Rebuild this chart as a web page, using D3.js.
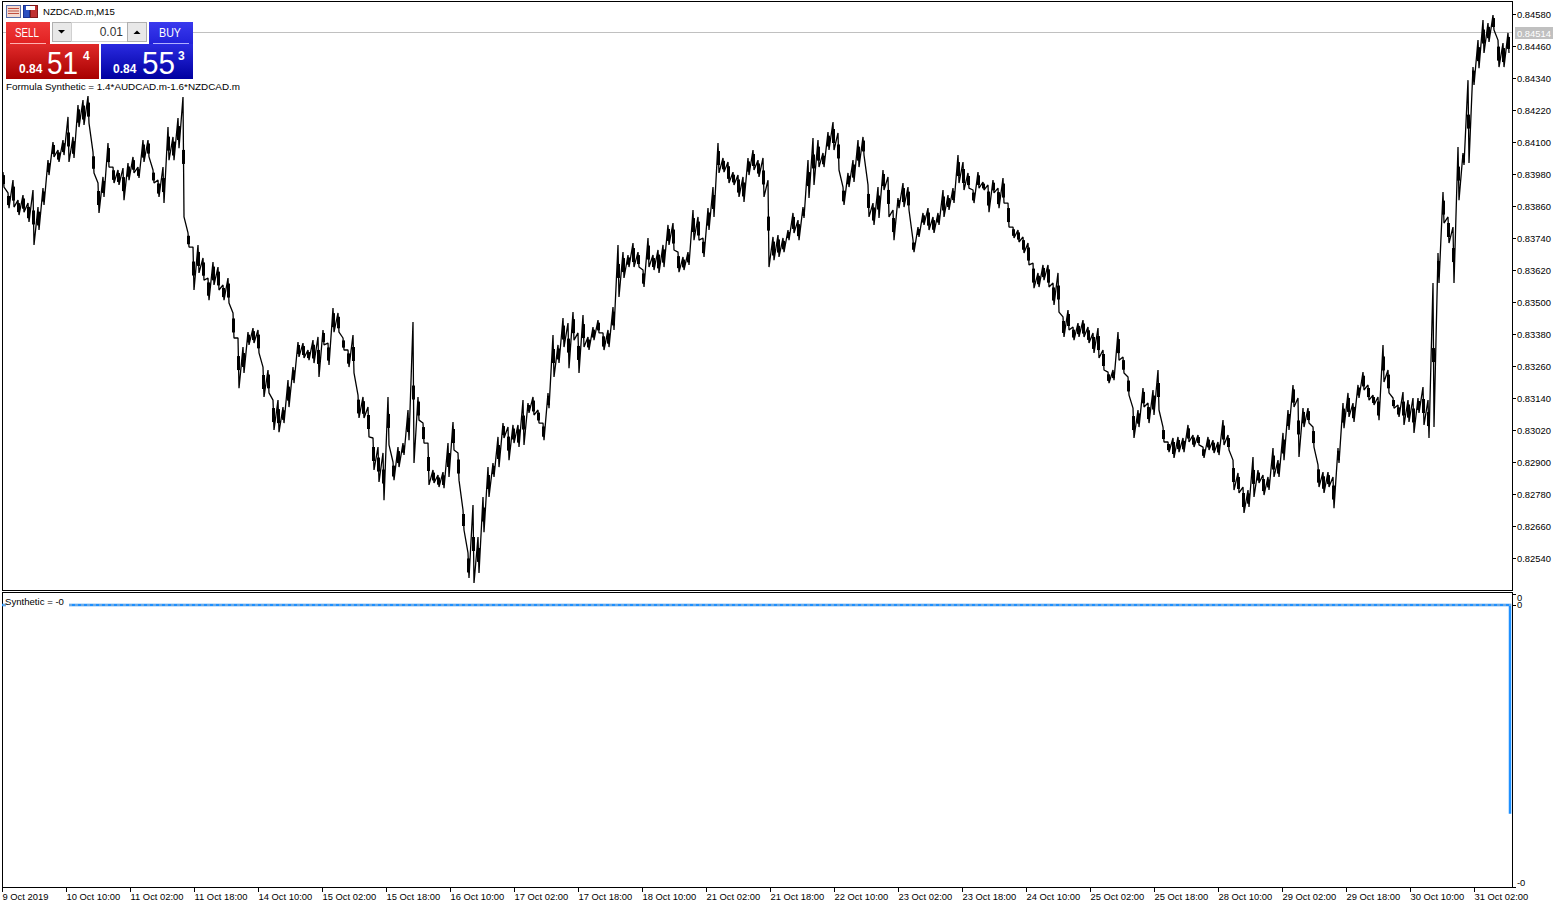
<!DOCTYPE html>
<html>
<head>
<meta charset="utf-8">
<title>NZDCAD.m,M15</title>
<script src="https://cdn.jsdelivr.net/npm/d3@7"></script>
<style>
  body { margin: 0; background: #fff; }
  svg { display: block; }
  text { font-family: "Liberation Sans", Arial, sans-serif; }
  .axis text { font-size: 9.4px; fill: #000; font-family: "Liberation Sans", Arial, sans-serif; }
  .axis line { stroke: #000; shape-rendering: crispEdges; }
  .axis path { display: none; }
</style>
</head>
<body>
<svg id="chart" width="1567" height="907"></svg>
<script>
// prices in points (1 point = 0.00001), one high/low pair every 5 M15 bars
const highs = [
  83987,83909,83957,83882,83901,83871,83920,83856,83927,84032,84100,84070,84107,84194,84119,84239,84257,84272,84062,83946,
  83969,84096,84006,83995,84002,84021,84044,84006,84107,84107,83995,83957,84006,84156,84119,84190,84269,83759,83706,83714,
  83665,83590,83650,83631,83564,83590,83459,83365,83331,83387,83402,83395,83256,83245,83132,83132,83106,83207,83256,83350,
  83346,83320,83357,83369,83395,83346,83477,83459,83365,83320,83376,83151,83144,83106,82990,82956,82934,83144,82900,82956,
  82971,83095,83425,83144,83046,82971,82870,82851,82862,82971,83050,82934,82720,82559,82739,82619,82769,82881,82896,82994,
  83046,83031,83039,83039,83132,83121,83144,83095,83046,83159,83376,83339,83440,83421,83462,83384,83451,83369,83406,83432,
  83384,83395,83481,83714,83687,83676,83721,83687,83620,83740,83676,83695,83714,83789,83796,83687,83669,83687,83845,83819,
  83740,83852,83931,84096,84040,84025,83987,83976,83969,84040,84070,84032,84040,83957,83744,83751,83740,83770,83834,83807,
  83856,84032,84115,84107,84059,84137,84175,84134,83931,83984,84032,84107,84119,83939,83871,83931,83995,83969,83845,83890,
  83946,83931,83732,83781,83834,83852,83819,83834,83920,83901,83927,84051,84025,83984,83920,83987,83950,83939,83957,83927,
  83965,83871,83781,83770,83744,83721,83646,83609,83639,83639,83571,83609,83444,83470,83406,83421,83432,83406,83384,83402,
  83320,83237,83245,83387,83294,83219,83102,83095,83177,83121,83170,83245,83031,82975,82990,82994,82990,83039,83001,83001,
  82956,82994,82982,82975,83057,83001,82907,82859,82806,82795,82919,82870,82851,82844,82952,82907,83009,83095,83189,83140,
  83102,83102,83031,82889,82862,82862,82844,82952,83121,83159,83121,83189,83237,83189,83151,83144,83339,83245,83140,83114,
  83162,83132,83140,83140,83181,83132,83571,83684,83912,83819,83781,84081,84059,84332,84381,84482,84557,84546,84576,84482,
  84471,84509
];
const lows = [
  83931,83852,83856,83826,83837,83800,83714,83770,83864,83976,84044,84025,84051,84025,84040,84156,84164,84171,83984,83834,
  83894,84006,83946,83939,83882,83957,83984,83965,84025,84044,83946,83894,83871,84032,84032,84077,83819,83706,83545,83609,
  83582,83507,83564,83545,83507,83496,83365,83177,83234,83339,83346,83309,83144,83159,83020,83012,83046,83106,83196,83294,
  83290,83282,83271,83219,83339,83264,83387,83387,83320,83256,83234,83065,83065,82994,82870,82825,82757,82964,82832,82881,
  82926,82982,82896,83057,82971,82814,82821,82806,82802,82844,82945,82832,82645,82465,82446,82484,82637,82769,82844,82881,
  82990,82907,82971,82956,82964,83084,83076,83046,82982,83102,83219,83271,83331,83252,83357,83234,83331,83320,83357,83384,
  83320,83331,83395,83519,83590,83631,83631,83631,83556,83631,83620,83609,83631,83714,83695,83612,83620,83639,83732,83732,
  83669,83770,83819,83984,83987,83946,83939,83894,83875,83976,83995,83969,83894,83631,83657,83669,83687,83732,83759,83732,
  83815,83890,83939,84006,84006,84070,84070,83995,83864,83931,83950,84006,84051,83819,83789,83815,83920,83819,83732,83852,
  83856,83845,83687,83744,83789,83770,83759,83789,83819,83845,83871,83946,83920,83927,83871,83927,83920,83837,83909,83852,
  83871,83781,83740,83725,83684,83639,83552,83556,83582,83556,83489,83462,83369,83395,83357,83369,83369,83346,83309,83290,
  83245,83196,83207,83282,83234,83151,82990,83031,83106,83046,83076,83095,82975,82937,82915,82937,82937,82975,82956,82964,
  82915,82945,82934,82926,82964,82945,82795,82784,82709,82731,82769,82821,82776,82795,82844,82844,82907,83020,83106,82919,
  83031,83046,82956,82806,82784,82806,82727,82896,83027,83069,83050,83140,83170,83132,83114,83057,83200,83159,83102,83069,
  83039,83050,83009,83084,83039,82990,83031,83571,83796,83721,83571,83882,84014,84021,84314,84377,84434,84475,84520,84381,
  84381,84434
];
const priceTicks = [84580,84460,84340,84220,84100,83980,83860,83740,83620,83500,83380,83260,83140,83020,82900,82780,82660,82540];
const currentPrice = 84514;

const timeLabels = ["9 Oct 2019","10 Oct 10:00","11 Oct 02:00","11 Oct 18:00","14 Oct 10:00","15 Oct 02:00","15 Oct 18:00","16 Oct 10:00",
  "17 Oct 02:00","17 Oct 18:00","18 Oct 10:00","21 Oct 02:00","21 Oct 18:00","22 Oct 10:00","23 Oct 02:00","23 Oct 18:00",
  "24 Oct 10:00","25 Oct 02:00","25 Oct 18:00","28 Oct 10:00","29 Oct 02:00","29 Oct 18:00","30 Oct 10:00","31 Oct 02:00"];

// synthetic indicator: flat at zero, then a single drop on the last bars
const synthBars = [0, 1508, 1508];
const synthValues = [0, 0, -0.00074];
const synthTicks = [0.00004, 0, -0.001];
const synthTickLabels = ["0", "0", "-0"];

const barsPerSample = 5;
const barsPerLabel = 64;

const svg = d3.select("#chart");

const x = d3.scaleLinear().domain([0, 1509]).range([2, 1511]);
const y = d3.scaleLinear().domain([84580, 82540]).range([14, 558]);
const ySynth = d3.scaleLinear().domain([0, -0.001]).range([605, 887]);

// main pane
svg.append("line")
  .attr("x1", 2).attr("x2", 1512)
  .attr("y1", Math.round(y(currentPrice)) + 0.5).attr("y2", Math.round(y(currentPrice)) + 0.5)
  .attr("stroke", "#c0c0c0");

// high-low swings, each joined to the next one
const pricePath = d3.path();
highs.forEach((h, i) => {
  const bx = x(1 + i * barsPerSample);
  if (i === 0) pricePath.moveTo(bx, y(h));
  else pricePath.lineTo(bx, y(h));
  pricePath.lineTo(bx + 1, y(lows[i]));
});
svg.append("path")
  .attr("d", pricePath.toString())
  .attr("fill", "none")
  .attr("stroke", "#000")
  .attr("stroke-width", 1.3)
  .attr("stroke-linejoin", "bevel");

// the middle of each range is solid black in the dense M15 bars, long spikes stay thin
const maxBody = 14;
function bodyHeight(h, l) {
  return Math.min((y(l) - y(h)) * 0.6, maxBody);
}
svg.append("g").selectAll("rect")
  .data(highs)
  .join("rect")
  .attr("x", (d, i) => x(1 + i * barsPerSample) - 1)
  .attr("width", 3)
  .attr("y", (d, i) => (y(d) + y(lows[i])) / 2 - bodyHeight(d, lows[i]) / 2)
  .attr("height", (d, i) => bodyHeight(d, lows[i]))
  .attr("fill", "#000");

// frames
svg.append("rect").attr("x", 2.5).attr("y", 1.5).attr("width", 1510).attr("height", 589)
  .attr("fill", "none").attr("stroke", "#000").attr("shape-rendering", "crispEdges");
svg.append("rect").attr("x", 2.5).attr("y", 592.5).attr("width", 1510).attr("height", 295)
  .attr("fill", "none").attr("stroke", "#000").attr("shape-rendering", "crispEdges");

svg.append("g")
  .attr("class", "axis")
  .attr("transform", "translate(1512,0)")
  .call(d3.axisRight(y).tickValues(priceTicks).tickSize(4).tickPadding(1)
    .tickFormat(d => (d / 100000).toFixed(5)));

// current price tag
svg.append("rect")
  .attr("x", 1515).attr("y", Math.round(y(currentPrice)) - 5).attr("width", 38).attr("height", 12)
  .attr("fill", "#c0c0c0");
svg.append("text")
  .attr("x", 1517).attr("y", Math.round(y(currentPrice)) + 5)
  .attr("font-size", 9.4).attr("fill", "#fff")
  .text((currentPrice / 100000).toFixed(5));

// lower pane
const synthLine = d3.line()
  .x((d, i) => x(synthBars[i]))
  .y(d => ySynth(d));
svg.append("path")
  .attr("d", synthLine(synthValues))
  .attr("fill", "none")
  .attr("stroke", "#1e90ff")
  .attr("stroke-width", 2.5);
svg.append("line")
  .attr("x1", 3).attr("x2", 1511)
  .attr("y1", ySynth(0)).attr("y2", ySynth(0))
  .attr("stroke", "#c0c0c0")
  .attr("stroke-dasharray", "3,3");
svg.append("rect").attr("x", 6).attr("y", 594).attr("width", 63).attr("height", 15).attr("fill", "#fff");
svg.append("text").attr("x", 5).attr("y", 605).attr("font-size", 9.6).text("Synthetic = -0");

const synthAxis = svg.append("g")
  .attr("class", "axis")
  .attr("transform", "translate(1512,0)")
  .call(d3.axisRight(ySynth).tickValues(synthTicks).tickSize(4).tickPadding(1)
    .tickFormat((d, i) => synthTickLabels[i]));
synthAxis.selectAll(".tick").filter((d, i) => i === 0).select("text").attr("dy", "6.5px");
synthAxis.selectAll(".tick").filter((d, i) => i === 1).select("text").attr("dy", "2.5px");
synthAxis.selectAll(".tick").filter((d, i) => i === 1).select("line").attr("stroke", "#c0c0c0");
synthAxis.selectAll(".tick").filter((d, i) => i === 2).select("text").attr("dy", "-2px");

// time axis
const timeAxis = svg.append("g")
  .attr("class", "axis")
  .attr("transform", "translate(0,888)")
  .call(d3.axisBottom(x)
    .tickValues(timeLabels.map((d, i) => i * barsPerLabel))
    .tickSize(4).tickPadding(0)
    .tickFormat((d, i) => timeLabels[i]));
timeAxis.selectAll("text").attr("text-anchor", "start").attr("x", 0).attr("y", 5);

// trade panel
const panel = svg.append("g");
panel.append("rect").attr("x", 3).attr("y", 3).attr("width", 240).attr("height", 17).attr("fill", "#fff");
panel.append("rect").attr("x", 6).attr("y", 21).attr("width", 187).attr("height", 59).attr("fill", "#fff");

// small window icons
panel.append("rect").attr("x", 6.5).attr("y", 5.5).attr("width", 14).attr("height", 12)
  .attr("fill", "#f3d9d0").attr("stroke", "#5a6fa8");
[8.5, 11, 13.5].forEach(ly => {
  panel.append("line").attr("x1", 8).attr("x2", 19).attr("y1", ly).attr("y2", ly).attr("stroke", "#c05040");
});
panel.append("rect").attr("x", 23.5).attr("y", 5.5).attr("width", 6).attr("height", 12).attr("fill", "#2a50c0").attr("stroke", "#1a3090");
panel.append("rect").attr("x", 30.5).attr("y", 5.5).attr("width", 7).attr("height", 12).attr("fill", "#c03030").attr("stroke", "#801818");
panel.append("rect").attr("x", 26).attr("y", 6).attr("width", 9).attr("height", 4).attr("fill", "#fff");

panel.append("text").attr("x", 43).attr("y", 15).attr("font-size", 9.6).text("NZDCAD.m,M15");

const defs = svg.append("defs");
function gradient(id, top, bottom) {
  const g = defs.append("linearGradient").attr("id", id).attr("x1", 0).attr("y1", 0).attr("x2", 0).attr("y2", 1);
  g.append("stop").attr("offset", "0%").attr("stop-color", top);
  g.append("stop").attr("offset", "100%").attr("stop-color", bottom);
}
gradient("redBtn", "#f03a3a", "#e02020");
gradient("redBox", "#e02a2a", "#a80000");
gradient("blueBtn", "#3a3aee", "#2020d8");
gradient("blueBox", "#2a2ae0", "#0000a0");

panel.append("rect").attr("x", 6).attr("y", 22).attr("width", 44).attr("height", 23).attr("fill", "url(#redBtn)");
panel.append("rect").attr("x", 149).attr("y", 22).attr("width", 44).attr("height", 23).attr("fill", "url(#blueBtn)");
panel.append("rect").attr("x", 6).attr("y", 44).attr("width", 93).attr("height", 35).attr("fill", "url(#redBox)");
panel.append("rect").attr("x", 101).attr("y", 44).attr("width", 92).attr("height", 35).attr("fill", "url(#blueBox)");
panel.append("line").attr("x1", 10).attr("x2", 46).attr("y1", 43.5).attr("y2", 43.5).attr("stroke", "#ffb0b0");
panel.append("line").attr("x1", 153).attr("x2", 189).attr("y1", 43.5).attr("y2", 43.5).attr("stroke", "#b0b0ff");

panel.append("rect").attr("x", 52.5).attr("y", 22.5).attr("width", 19).attr("height", 19).attr("fill", "#e8e8e8").attr("stroke", "#b0b0b0");
panel.append("rect").attr("x", 71.5).attr("y", 22.5).attr("width", 56).attr("height", 19).attr("fill", "#fff").attr("stroke", "#d0d0d0");
panel.append("rect").attr("x", 127.5).attr("y", 22.5).attr("width", 19).attr("height", 19).attr("fill", "#e8e8e8").attr("stroke", "#b0b0b0");
panel.append("path").attr("d", "M58,30h7l-3.5,3.5z").attr("fill", "#000");
panel.append("path").attr("d", "M133.5,34h7l-3.5,-3.5z").attr("fill", "#000");
panel.append("text").attr("x", 123).attr("y", 36).attr("text-anchor", "end").attr("font-size", 12).attr("fill", "#333").text("0.01");

function panelText(tx, ty, size, str, weight, len) {
  const t = panel.append("text").attr("x", tx).attr("y", ty).attr("font-size", size)
    .attr("font-weight", weight || "normal").attr("fill", "#fff").text(str);
  if (len) t.attr("textLength", len).attr("lengthAdjust", "spacingAndGlyphs");
}
panelText(15, 37, 12, "SELL", "normal", 24);
panelText(159, 37, 12, "BUY", "normal", 22);
panelText(19, 73, 12, "0.84", "bold");
panelText(47, 74, 32, "51", "normal", 31);
panelText(83, 60, 12, "4", "bold");
panelText(113, 73, 12, "0.84", "bold");
panelText(142, 74, 32, "55", "normal", 33);
panelText(178, 60, 12, "3", "bold");

svg.append("text").attr("x", 6).attr("y", 90).attr("font-size", 9.9)
  .text("Formula Synthetic = 1.4*AUDCAD.m-1.6*NZDCAD.m");
</script>
</body>
</html>
